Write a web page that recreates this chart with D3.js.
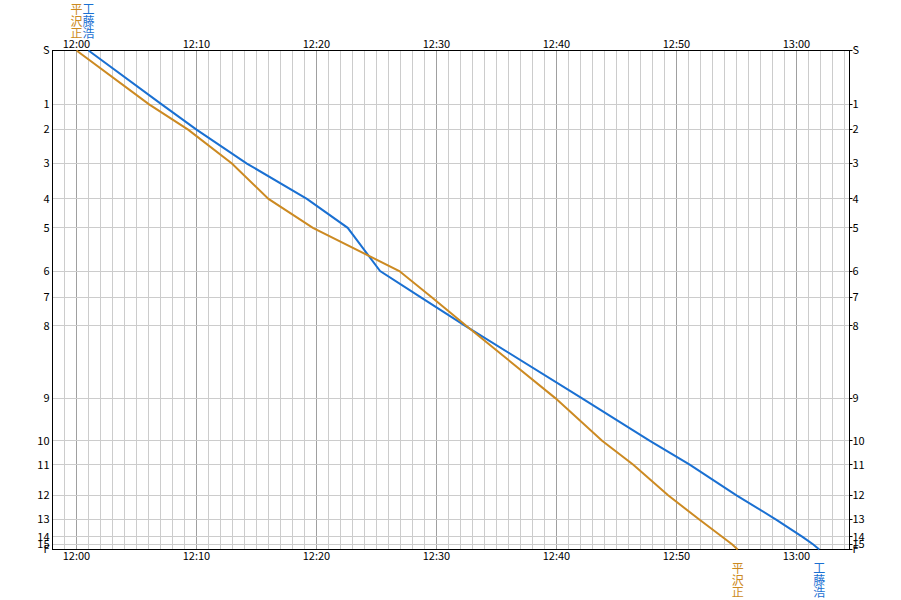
<!DOCTYPE html>
<html><head><meta charset="utf-8">
<script src="https://cdn.jsdelivr.net/npm/d3@7"></script>
<style>body{margin:0;background:#fff}</style>
</head><body><svg id="c" width="901" height="600"></svg>
<script>
// ---- data ----
const controls = ["S","1","2","3","4","5","6","7","8","9","10","11","12","13","14","15","F"];
const distances = [0,540,793,1133,1487,1777,2210,2473,2760,3483,3910,4150,4457,4700,4873,4950,5000];
const runnerNames = ["平沢正","工藤浩"];
const runnerColors = ["#cc8a22","#1a70d2"];
const hirasawaTimes = ["12:00:00","12:06:03","12:09:18","12:12:57","12:16:00","12:19:42","12:26:54","12:29:36","12:32:30","12:39:54","12:43:48","12:46:24","12:49:18","12:51:54","12:53:48","12:54:39","12:55:06"];
const kudoTimes = ["12:01:00","12:07:06","12:10:00","12:14:12","12:19:12","12:22:36","12:25:18","12:28:42","12:32:24","12:42:06","12:47:45","12:51:06","12:55:00","12:58:18","13:00:30","13:01:24","13:01:54"];
const timeDomain = ["11:58:00","13:04:25"];
const timeTickLabels = ["12:00","12:10","12:20","12:30","12:40","12:50","13:00"];

// ---- chart ----
const parse = d3.timeParse("%H:%M:%S");
const svg = d3.select("#c");
const L = 52.5, R = 849.5, T = 50.5, B = 549.5;
const x = d3.scaleTime().domain(timeDomain.map(parse)).range([L, R]);
const y = d3.scaleLinear().domain([0, distances[distances.length-1]]).range([T, B]);
const crisp = v => Math.round(v - 0.5) + 0.5;
const font = "'Noto Sans CJK JP', 'DejaVu Sans', sans-serif";

// vertical grid, every minute
const minutes = d3.timeMinute.range(x.domain()[0], d3.timeMinute.offset(x.domain()[1], 1)).filter(d => d <= x.domain()[1]);
svg.append("g").selectAll("line").data(minutes).join("line")
  .attr("x1", d => crisp(x(d))).attr("x2", d => crisp(x(d)))
  .attr("y1", T).attr("y2", B)
  .attr("stroke", d => d.getMinutes() % 10 === 0 ? "#a0a0a0" : "#cccccc")
  .attr("stroke-width", 1);

// horizontal grid at controls
svg.append("g").selectAll("line").data(distances).join("line")
  .attr("x1", L).attr("x2", R)
  .attr("y1", d => crisp(y(d))).attr("y2", d => crisp(y(d)))
  .attr("stroke", "#cccccc");

// border
svg.append("rect").attr("x", L).attr("y", T).attr("width", R - L).attr("height", B - T)
  .attr("fill", "none").attr("stroke", "#000");

// right ticks
svg.append("g").selectAll("line").data(distances).join("line")
  .attr("x1", R).attr("x2", R + 3)
  .attr("y1", d => crisp(y(d))).attr("y2", d => crisp(y(d)))
  .attr("stroke", "#000");

// y labels
const yl = controls.map((c, i) => ({c, d: distances[i]}));
svg.append("g").selectAll("text").data(yl).join("text")
  .attr("x", L - 3).attr("y", d => y(d.d)).attr("dy", "0.35em")
  .attr("text-anchor", "end").attr("font-family", font).attr("font-size", 11)
  .text(d => d.c);
svg.append("g").selectAll("text").data(yl).join("text")
  .attr("x", R + 3).attr("y", d => y(d.d)).attr("dy", "0.35em")
  .attr("text-anchor", "start").attr("font-family", font).attr("font-size", 11)
  .text(d => d.c);

// x labels top and bottom
const tp = d3.timeParse("%H:%M");
svg.append("g").selectAll("text").data(timeTickLabels).join("text")
  .attr("x", d => x(tp(d))).attr("y", T - 3)
  .attr("text-anchor", "middle").attr("font-family", font).attr("font-size", 11)
  .text(d => d);
svg.append("g").selectAll("text").data(timeTickLabels).join("text")
  .attr("x", d => x(tp(d))).attr("y", B + 10)
  .attr("text-anchor", "middle").attr("font-family", font).attr("font-size", 11)
  .text(d => d);

// runner lines
const series = [hirasawaTimes, kudoTimes];
const line = d3.line().x(d => x(d.t)).y(d => y(d.d));
const runners = runnerNames.map((n, i) => ({
  name: n, color: runnerColors[i],
  pts: series[i].map((t, j) => ({t: parse(t), d: distances[j]}))
}));
svg.append("g").selectAll("path").data(runners.slice().reverse()).join("path")
  .attr("d", d => line(d.pts)).attr("fill", "none")
  .attr("stroke", d => d.color).attr("stroke-width", 2);

// vertical names at start and finish
runners.forEach(r => {
  const chars = Array.from(r.name);
  const sx = x(r.pts[0].t), fx = x(r.pts[r.pts.length - 1].t);
  chars.forEach((ch, k) => {
    svg.append("text").attr("x", sx).attr("y", 14 + k * 12)
      .attr("text-anchor", "middle").attr("font-family", font).attr("font-size", 12)
      .attr("fill", r.color).text(ch);
    svg.append("text").attr("x", fx).attr("y", 573 + k * 12)
      .attr("text-anchor", "middle").attr("font-family", font).attr("font-size", 12)
      .attr("fill", r.color).text(ch);
  });
});
</script></body></html>
